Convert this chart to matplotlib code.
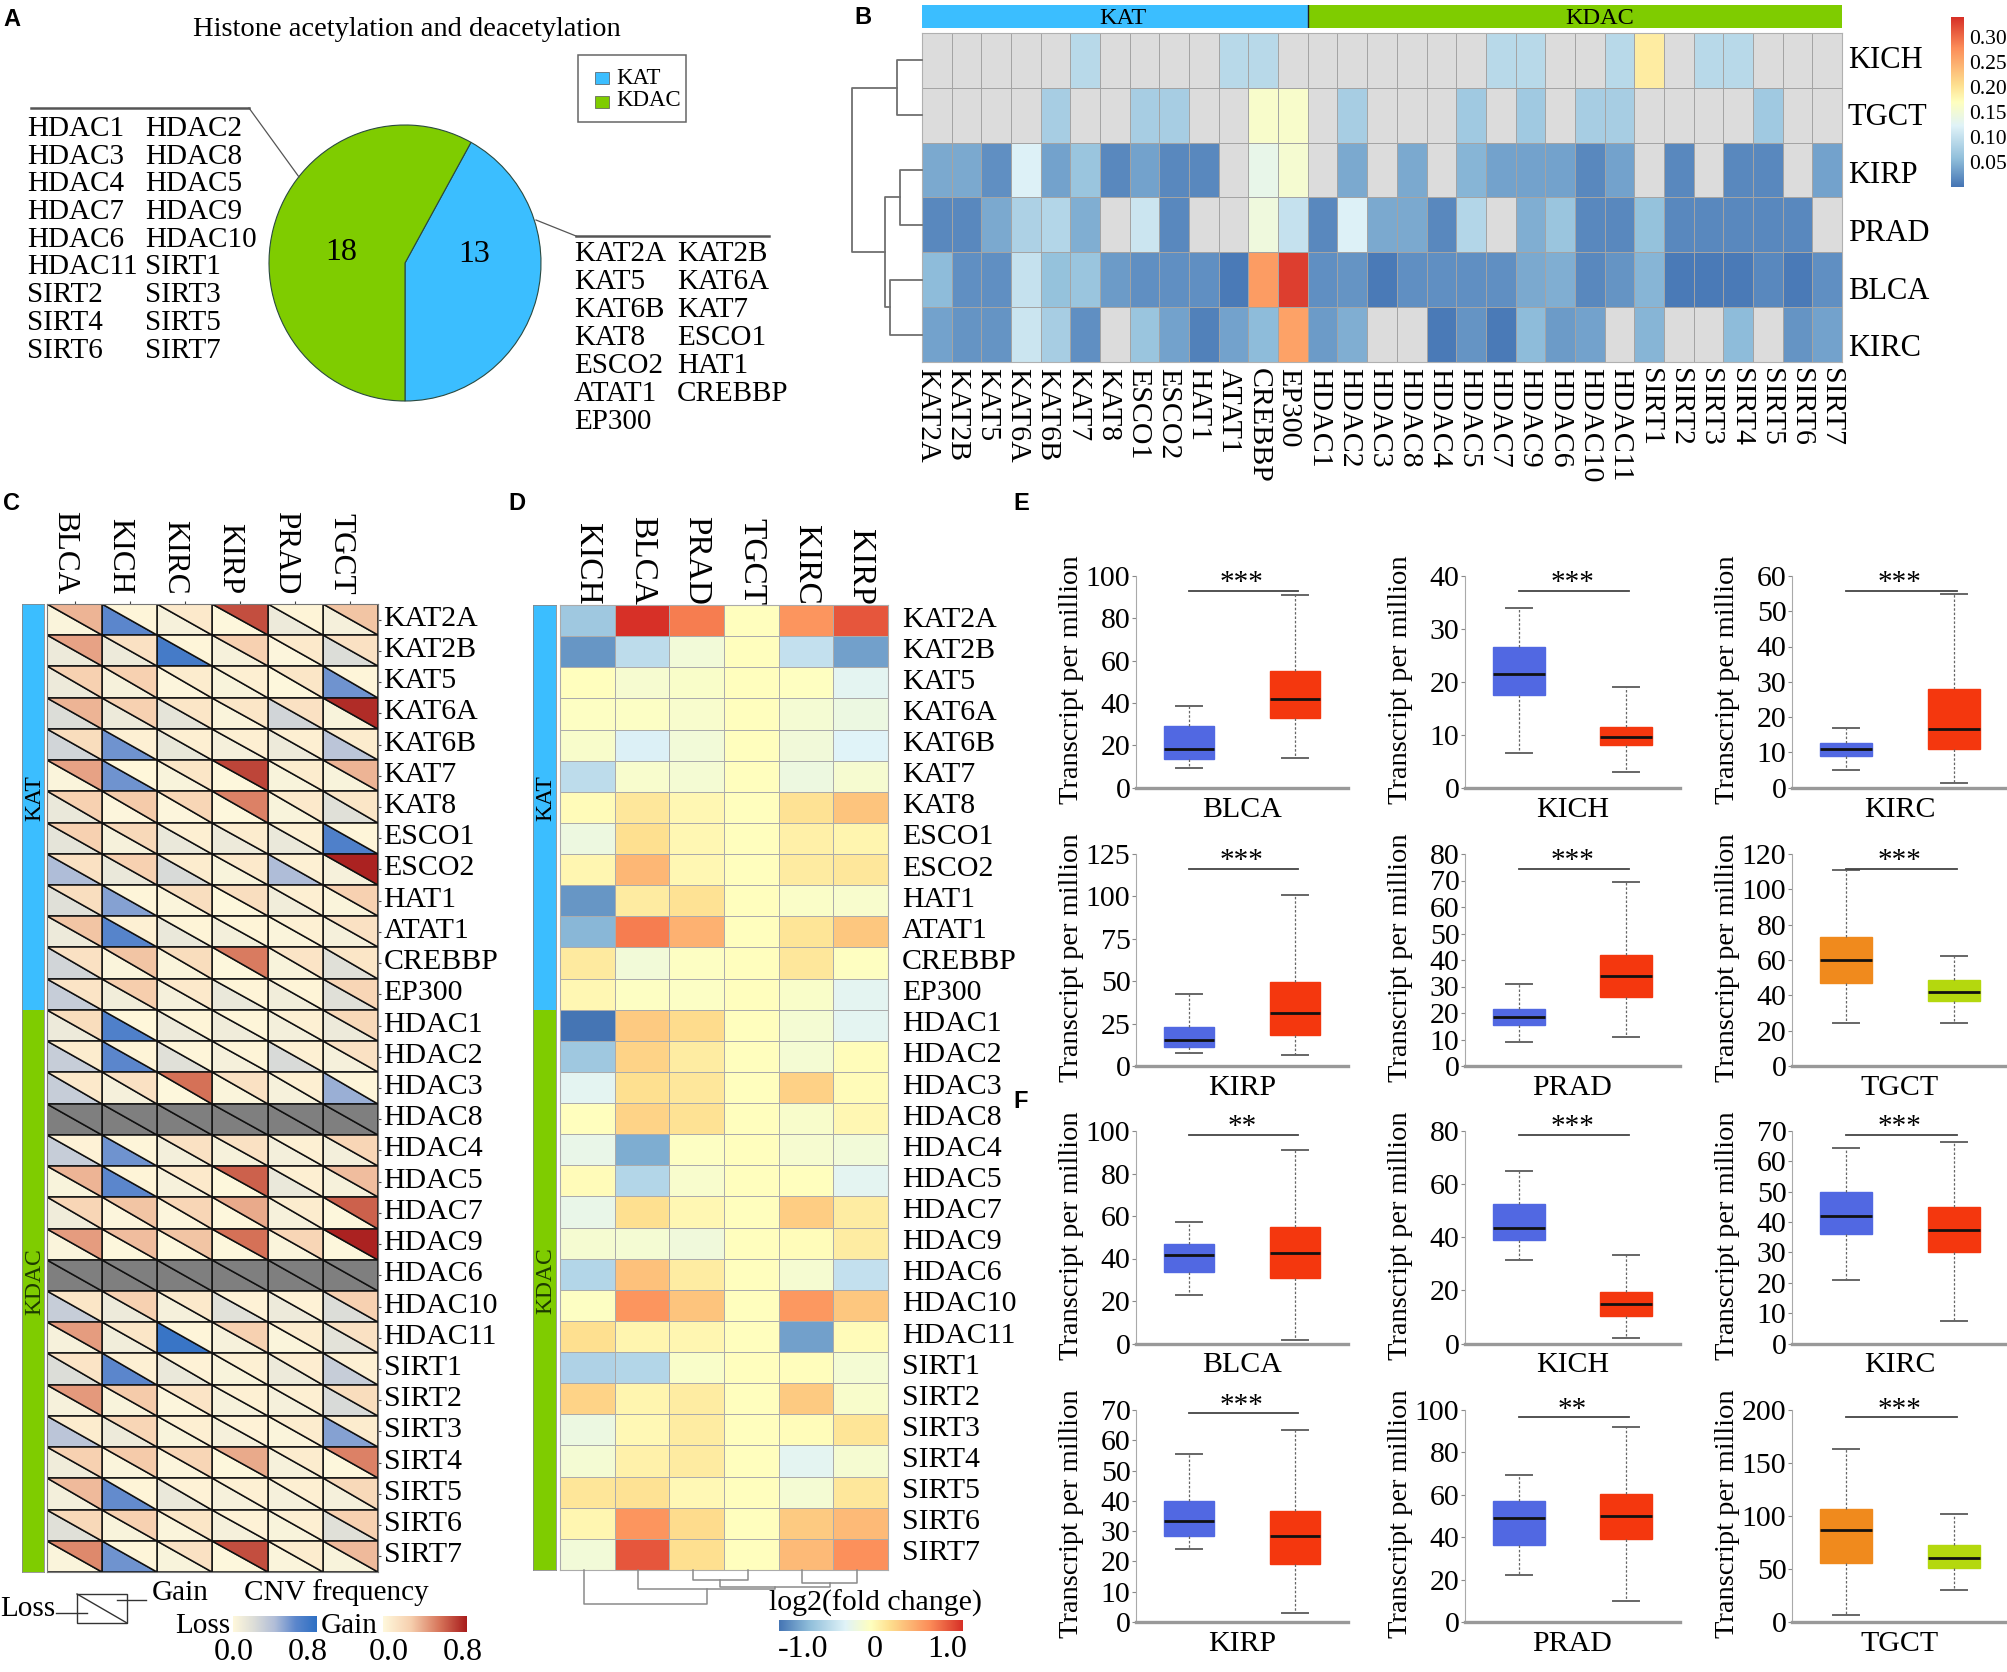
import numpy as np
import matplotlib
matplotlib.use('Agg')
import matplotlib.pyplot as plt
from matplotlib.collections import PolyCollection
from matplotlib.colors import LinearSegmentedColormap, Normalize
from matplotlib.transforms import ScaledTranslation

plt.rcParams['font.family'] = ['Liberation Serif', 'DejaVu Serif']

W, H = 2008, 1672
KAT_COLOR = '#3BBEFF'
KDAC_COLOR = '#7FCC00'
nan = np.nan

kat_genes = ['KAT2A', 'KAT2B', 'KAT5', 'KAT6A', 'KAT6B', 'KAT7', 'KAT8', 'ESCO1', 'ESCO2',
             'HAT1', 'ATAT1', 'CREBBP', 'EP300']
kdac_genes = ['HDAC1', 'HDAC2', 'HDAC3', 'HDAC8', 'HDAC4', 'HDAC5', 'HDAC7', 'HDAC9', 'HDAC6',
              'HDAC10', 'HDAC11', 'SIRT1', 'SIRT2', 'SIRT3', 'SIRT4', 'SIRT5', 'SIRT6', 'SIRT7']
genes = kat_genes + kdac_genes

# panel A
pie_counts = [13, 18]
pie_colors = [KAT_COLOR, KDAC_COLOR]
kdac_list = [['HDAC1', 'HDAC2'], ['HDAC3', 'HDAC8'], ['HDAC4', 'HDAC5'], ['HDAC7', 'HDAC9'],
             ['HDAC6', 'HDAC10'], ['HDAC11', 'SIRT1'], ['SIRT2', 'SIRT3'], ['SIRT4', 'SIRT5'],
             ['SIRT6', 'SIRT7']]
kat_list = [['KAT2A', 'KAT2B'], ['KAT5', 'KAT6A'], ['KAT6B', 'KAT7'], ['KAT8', 'ESCO1'],
            ['ESCO2', 'HAT1'], ['ATAT1', 'CREBBP'], ['EP300', '']]

# panel B
b_rows = ['KICH', 'TGCT', 'KIRP', 'PRAD', 'BLCA', 'KIRC']
b_kich = [nan, nan, nan, nan, nan, .09, nan, nan, nan, nan, .09, .09, nan, nan, nan, nan, nan, nan,
          nan, .09, .09, nan, nan, .09, .19, nan, .09, .09, nan, nan, nan]
b_tgct = [nan, nan, nan, nan, .075, nan, nan, .075, .075, nan, nan, .16, .16, nan, .075, nan, nan,
          nan, .07, nan, .07, nan, .075, .075, nan, nan, nan, nan, .07, nan, nan]
b_kirp = [.04, .04, .02, .12, .035, .065, .015, .035, .015, .015, nan, .135, .155, nan, .04, nan,
          .04, nan, .05, .035, .035, .035, .015, .035, nan, .015, nan, .015, .015, nan, .035]
b_prad = [.015, .015, .04, .08, .085, .045, nan, .105, .015, nan, nan, .145, .1, .015, .12, .04,
          .04, .015, .085, nan, .045, .065, .015, .015, .06, .015, .015, .015, .015, .015, nan]
b_blca = [.055, .02, .02, .1, .06, .065, .03, .02, .02, .02, .005, .265, .33, .02, .025, .005, .02,
          .02, .02, .02, .04, .045, .015, .025, .05, .005, .005, .005, .015, .005, .02]
b_kirc = [.035, .025, .025, .105, .075, .02, nan, .065, .035, .01, .035, .055, .26, .03, .045, nan,
          nan, .005, .025, .005, .055, .03, .035, nan, .05, nan, nan, .055, nan, .025, .035]
b_ticks = [0.05, 0.10, 0.15, 0.20, 0.25, 0.30]
# (row a, row b, distance from the heatmap in px)
b_links = [(0, 1, 25), (2, 3, 22), (4, 5, 32), (2.5, 4.5, 37), (0.5, 3.5, 70)]

# panel C, columns BLCA KICH KIRC KIRP PRAD TGCT
c_cols = ['BLCA', 'KICH', 'KIRC', 'KIRP', 'PRAD', 'TGCT']
c_gain = [[.35, .02, .10, .65, .03, .30], [.40, .15, .02, .25, .10, .15], [.25, .25, .08, .06, .12, .02],
          [.35, .25, .12, .12, .15, .75], [.18, .05, .06, .06, .06, .08], [.40, .01, .12, .68, .08, .35],
          [.25, .28, .22, .50, .10, .12], [.25, .20, .06, .08, .05, .02], [.15, .25, .08, .10, .05, .78],
          [.17, .02, .17, .17, .06, .25], [.30, .05, .03, .03, .05, .15], [.15, .30, .18, .52, .13, .12],
          [.13, .27, .10, .03, .03, .22], [.18, .01, .03, .02, .05, .20], [.08, .03, .02, .03, .05, .15],
          [.10, .15, .55, .15, .06, .02], [nan] * 6, [.04, .02, .15, .15, .05, .22],
          [.35, .03, .10, .60, .06, .32], [.22, .30, .22, .38, .08, .60], [.42, .32, .30, .55, .22, .78],
          [nan] * 6, [.12, .25, .10, .04, .04, .25], [.42, .12, .02, .25, .08, .15],
          [.13, .05, .04, .05, .07, .05], [.43, .28, .13, .05, .06, .18], [.08, .22, .06, .04, .08, .08],
          [.25, .28, .22, .38, .08, .50], [.33, .03, .04, .05, .06, .20], [.20, .25, .12, .04, .06, .25],
          [.48, .02, .15, .65, .08, .33]]
c_loss = [[.03, .60, .05, .01, .10, .06], [.10, .10, .70, .05, .02, .20], [.10, .05, .02, .04, .01, .55],
          [.20, .10, .15, .03, .25, .04], [.25, .55, .13, .06, .10, .35], [.03, .55, .04, .01, .04, .04],
          [.12, .02, .02, .01, .04, .18], [.15, .05, .12, .10, .12, .65], [.40, .12, .22, .04, .40, .05],
          [.18, .50, .03, .01, .08, .03], [.10, .62, .12, .07, .03, .06], [.25, .03, .03, .01, .04, .18],
          [.30, .08, .06, .12, .08, .18], [.10, .65, .10, .09, .07, .10], [.30, .60, .18, .06, .22, .06],
          [.30, .06, .01, .03, .05, .45], [nan] * 6, [.30, .55, .07, .05, .07, .07],
          [.04, .60, .05, .01, .12, .05], [.09, .02, .02, .01, .05, .01], [.03, .01, .01, .01, .03, .01],
          [nan] * 6, [.30, .10, .06, .17, .10, .20], [.05, .08, .75, .05, .03, .16],
          [.20, .60, .12, .04, .10, .30], [.05, .04, .02, .05, .06, .22], [.35, .10, .04, .06, .03, .50],
          [.09, .03, .02, .01, .05, .01], [.07, .58, .12, .05, .06, .06], [.18, .04, .03, .06, .04, .18],
          [.03, .55, .04, .01, .03, .04]]

# panel D, read as a share of the colour range
d_cols = ['KICH', 'BLCA', 'PRAD', 'TGCT', 'KIRC', 'KIRP']
d_vals = [[-.60, 1.0, .70, 0, .60, .85], [-.85, -.45, -.12, 0, -.42, -.80], [0, -.08, -.05, 0, -.01, -.25],
          [-.02, -.03, -.07, 0, -.10, -.17], [-.06, -.30, -.12, 0, -.13, -.28], [-.45, -.07, -.10, 0, -.16, -.08],
          [.03, .15, .05, 0, .18, .35], [-.16, .20, .05, 0, .10, .07], [.06, .42, .05, 0, .13, .15],
          [-.85, .13, .18, 0, -.04, -.07], [-.70, .70, .45, 0, .17, .33], [.14, -.12, -.02, 0, .15, -.01],
          [.05, -.02, -.03, 0, -.05, -.25], [-1.0, .32, .22, 0, -.10, -.25], [-.60, .27, .12, 0, -.10, .02],
          [-.25, .20, .15, 0, .28, .03], [0, .27, .18, 0, -.06, .05], [-.20, -.75, -.02, 0, -.08, -.12],
          [.03, -.50, -.07, 0, 0, -.25], [-.20, .20, .05, 0, .30, .12], [-.09, -.10, -.14, 0, .02, .12],
          [-.50, .36, .12, 0, -.09, -.42], [-.02, .60, .35, 0, .58, .33], [.20, .07, .06, 0, -.80, .03],
          [-.52, -.50, -.05, 0, .01, -.10], [.27, .07, .12, 0, .32, -.06], [-.17, .04, .12, 0, .02, .17],
          [-.10, .09, .13, 0, -.25, -.09], [.16, .18, .04, 0, -.10, .15], [.06, .60, .22, 0, .32, .40],
          [-.12, .85, .20, 0, .40, .62]]
d_range = 1.25
d_ticks = [-1.0, 0, 1.0]
d_ticklabels = ['-1.0', '0', '1.0']
# (col a, col b, height below the heatmap in px)
d_links = [(2, 3, 10), (4, 5, 12.5), (2.5, 4.5, 17), (1, 3.5, 18.5), (0, 2.25, 34)]

# panels E and F: whislo, q1, median, q3, whishi for the two groups
box_names = ['BLCA', 'KICH', 'KIRC', 'KIRP', 'PRAD', 'TGCT']
e_normal = [[9, 13.5, 18, 29, 38.5], [6.5, 17.5, 21.5, 26.5, 34], [5, 9, 11, 12.5, 17],
            [7.5, 11, 15.5, 23, 42.5], [9, 15.5, 18.5, 21.5, 31], [24.5, 47, 60, 73, 111]]
e_tumor = [[14, 33, 42, 55, 91], [3, 8, 9.5, 11.5, 19], [1.2, 11, 16.5, 28, 55],
           [6.5, 18.5, 31, 49.5, 101], [11, 26, 34, 42, 69.5], [24.5, 37, 42, 48.5, 62.5]]
e_ticks = [range(0, 101, 20), range(0, 41, 10), range(0, 61, 10),
           range(0, 126, 25), range(0, 81, 10), range(0, 121, 20)]
e_stars = ['***'] * 6
e_bar = [.93] * 6
f_normal = [[23, 33.5, 41.5, 47, 57], [31.5, 39, 43.5, 52.5, 65], [21, 36, 42, 50, 64.5],
            [24, 28.5, 33.5, 40, 55.5], [22, 36.5, 49, 57, 69.5], [7, 56, 87, 107, 163]]
f_tumor = [[1.5, 31, 42.5, 55, 91], [2, 10.5, 15, 19.5, 33.5], [7.5, 30, 37.5, 45, 66.5],
           [3, 19, 28.5, 36.5, 63.5], [10, 39, 50, 60.5, 92], [30, 51, 60, 72.5, 102]]
f_ticks = [range(0, 101, 20), range(0, 81, 20), range(0, 71, 10),
           range(0, 71, 10), range(0, 101, 20), range(0, 201, 50)]
f_stars = ['**', '***', '***', '***', '**', '***']
f_bar = [.982, .982, .982, .984, .965, .965]

fig = plt.figure(figsize=(W / 100, H / 100), dpi=100, facecolor='white')


def box_ax(left, top, right, bottom):
    return fig.add_axes([left / W, 1 - bottom / H, (right - left) / W, (bottom - top) / H])


def nudge(labels, dx, dy):
    # dx, dy in px
    shift = ScaledTranslation(dx / 100, dy / 100, fig.dpi_scale_trans)
    for lab in labels:
        lab.set_transform(lab.get_transform() + shift)


# everything placed by pixel goes on this sheet
bg = fig.add_axes([0, 0, 1, 1], zorder=10)
bg.set_xlim(0, W)
bg.set_ylim(H, 0)
bg.axis('off')
bg.patch.set_alpha(0)

for letter, x, y in [('A', 3, 19), ('B', 854, 17), ('C', 3, 503), ('D', 508, 503), ('E', 1013, 503), ('F', 1013, 1101)]:
    bg.text(x, y, letter, family='Liberation Sans', fontweight='bold', fontsize=17, va='center')


def group_strip(left, top, right, bottom):
    ax = box_ax(left, top, right, bottom)
    ax.bar([0, 0], [len(kat_genes), len(kdac_genes)], bottom=[0, len(kat_genes)], width=1, align='edge',
           color=[KAT_COLOR, KDAC_COLOR], edgecolor='none')
    ax.set_xlim(0, 1)
    ax.set_ylim(len(genes), 0)
    ax.set_xticks([])
    ax.set_yticks([])
    for s in ax.spines.values():
        s.set_color('#888888')
        s.set_linewidth(0.6)
    ax.text(.58, len(kat_genes) / 2 - .3, 'KAT', rotation=90, ha='center', va='center', fontsize=17)
    ax.text(.58, len(kat_genes) + len(kdac_genes) / 2 - .3, 'KDAC', rotation=90, ha='center', va='center',
            fontsize=17, color='#1d3a00')


# A ------------------------------------------------------------------
bg.text(407, 29, 'Histone acetylation and deacetylation', fontsize=20.5, ha='center', va='center')
ax = box_ax(269, 125, 541, 401)
ax.pie(pie_counts, colors=pie_colors, startangle=-90, counterclock=True, radius=1,
       wedgeprops={'edgecolor': '#2a4a40', 'linewidth': 0.8})
ax.set_xlim(-1, 1)
ax.set_ylim(-1, 1)
ax.set_aspect('auto')
bg.text(474, 254, str(pie_counts[0]), fontsize=23, ha='center', va='center')
bg.text(341, 253, str(pie_counts[1]), fontsize=23, ha='center', va='center')
for i, row in enumerate(kdac_list):
    bg.text(27, 129 + 27.7 * i, row[0], fontsize=21, va='center')
    bg.text(145, 129 + 27.7 * i, row[1], fontsize=21, va='center')
for i, row in enumerate(kat_list):
    bg.text(574, 254 + 28 * i, row[0], fontsize=21, va='center')
    bg.text(677, 254 + 28 * i, row[1], fontsize=21, va='center')
bg.plot([31, 249], [108, 108], color='#555555', lw=1.8)
bg.plot([249, 299], [108, 177], color='#555555', lw=0.9)
bg.plot([576, 769], [236, 236], color='#555555', lw=1.8)
bg.plot([536, 576], [220, 236], color='#555555', lw=0.9)
bg.add_patch(plt.Rectangle((578, 55), 108, 67, fill=False, ec='#666666', lw=1.1))
bg.add_patch(plt.Rectangle((595, 72), 14, 12, fc=KAT_COLOR, ec='#555555', lw=0.5))
bg.add_patch(plt.Rectangle((595, 96), 14, 12, fc=KDAC_COLOR, ec='#555555', lw=0.5))
bg.text(616, 78, 'KAT', fontsize=16.5, va='center')
bg.text(616, 101, 'KDAC', fontsize=16.5, va='center')

# B ------------------------------------------------------------------
heat_cmap = LinearSegmentedColormap.from_list(
    'heat', [(0, '#4575B4'), (.167, '#91BFDB'), (.36, '#E0F3F8'), (.5, '#FFFFBF'),
             (.6, '#FEE090'), (.82, '#FC8D59'), (1, '#D73027')])
b_cmap = heat_cmap.copy()
b_cmap.set_bad('#DCDCDC')
b_norm = Normalize(0, 0.34)
b_vals = np.ma.masked_invalid([b_kich, b_tgct, b_kirp, b_prad, b_blca, b_kirc])
ax = box_ax(922, 33, 1842, 362)
ax.pcolormesh(b_vals, cmap=b_cmap, norm=b_norm, edgecolors='#A4A4A4', linewidth=0.7)
ax.set_ylim(len(b_rows), 0)
ax.set_xticks([])
ax.set_yticks([])
for s in ax.spines.values():
    s.set_color('#B0B0B0')
for i, gene in enumerate(genes):
    bg.text(927 + 30.13 * i, 368, gene, rotation=-90, fontsize=21.5, ha='center', va='top')
for i, name in enumerate(b_rows):
    bg.text(1848, 60 + 57.8 * i, name, fontsize=22, va='center')

bar = box_ax(922, 5, 1842, 28)
bar.barh([0, 0], [len(kat_genes), len(kdac_genes)], left=[0, len(kat_genes)], height=1, align='edge',
         color=[KAT_COLOR, KDAC_COLOR])
bar.axvline(len(kat_genes), color='#222222', lw=1)
bar.set_xlim(0, len(genes))
bar.set_ylim(0, 1)
bar.axis('off')
bg.text(1123, 18, 'KAT', ha='center', va='center', fontsize=17.5)
bg.text(1600, 18, 'KDAC', ha='center', va='center', fontsize=17.5)

den = box_ax(852, 33, 922, 362)
den.set_xlim(70, 0)
den.set_ylim(len(b_rows) - .5, -.5)
den.axis('off')
leaf_h = {}
for a, b, d in b_links:
    da = leaf_h.get(a, 0)
    db = leaf_h.get(b, 0)
    den.plot([da, d, d, db], [a, a, b, b], color='#707070', lw=1.3, clip_on=False)
    leaf_h[(a + b) / 2] = d

cax = box_ax(1951, 17, 1964, 187)
cax.imshow(np.linspace(0.34, 0, 256)[:, None], cmap=b_cmap, norm=b_norm, aspect='auto', extent=[0, 1, 0, 0.34])
cax.set_xticks([])
cax.set_yticks(b_ticks, ['%.2f' % t for t in b_ticks], fontsize=15.5)
cax.yaxis.tick_right()
cax.tick_params(length=0, pad=4)
for s in cax.spines.values():
    s.set_visible(False)

# C ------------------------------------------------------------------
loss_cmap = LinearSegmentedColormap.from_list(
    'loss', [(0, '#FFF8DC'), (.25, '#DCDDD8'), (.5, '#B0BDD8'), (.75, '#5B86CC'), (1, '#2E70C4')])
gain_cmap = LinearSegmentedColormap.from_list('gain', ['#FFF8DC', '#F6CFAE', '#D8775C', '#A81C1C'])
cnv_norm = Normalize(0, 0.8)
ax = box_ax(47, 604, 378, 1572)
loss_polys, gain_polys, loss_rgb, gain_rgb = [], [], [], []
for i in range(len(genes)):
    for j in range(len(c_cols)):
        loss_polys.append([(j, i), (j, i + 1), (j + 1, i + 1)])
        gain_polys.append([(j, i), (j + 1, i), (j + 1, i + 1)])
        if np.isnan(c_gain[i][j]):
            loss_rgb.append('#7F7F7F')
            gain_rgb.append('#7F7F7F')
        else:
            loss_rgb.append(loss_cmap(cnv_norm(c_loss[i][j])))
            gain_rgb.append(gain_cmap(cnv_norm(c_gain[i][j])))
ax.add_collection(PolyCollection(loss_polys, facecolors=loss_rgb, edgecolors='#111111', linewidths=1.1))
ax.add_collection(PolyCollection(gain_polys, facecolors=gain_rgb, edgecolors='#111111', linewidths=1.1))
ax.set_xlim(0, len(c_cols))
ax.set_ylim(len(genes), 0)
ax.set_xticks(np.arange(len(c_cols)) + .5, c_cols, rotation=-90, fontsize=22.5, ha='center', va='bottom')
ax.set_yticks(np.arange(len(genes)) + .5, genes, fontsize=21.5)
ax.xaxis.tick_top()
ax.yaxis.tick_right()
ax.tick_params(axis='x', length=2, pad=5, color='#444444')
ax.tick_params(axis='y', length=2, pad=2, color='#444444')
nudge(ax.get_xticklabels(), -10, 0)
nudge(ax.get_yticklabels(), 0, 4)
for s in ax.spines.values():
    s.set_color('#777777')
group_strip(22, 604, 44, 1572)

bg.text(0, 1609, 'Loss', fontsize=21, va='center')
bg.add_patch(plt.Rectangle((77, 1594), 50, 29, fill=False, ec='#333333', lw=1))
bg.plot([77, 127], [1594, 1623], color='#333333', lw=1)
bg.plot([56, 87], [1613, 1613], color='#333333', lw=1)
bg.plot([117, 146], [1600, 1600], color='#333333', lw=1)
bg.text(152, 1593, 'Gain', fontsize=21, va='center')
bg.text(244, 1593, 'CNV frequency', fontsize=21, va='center')
bg.text(175, 1626, 'Loss', fontsize=21, va='center')
bg.text(321, 1626, 'Gain', fontsize=21, va='center')
for left, right, lo, hi, cm in [(233, 317, -.01, .9, loss_cmap), (383, 467, -.065, .843, gain_cmap)]:
    cb = box_ax(left, 1616, right, 1632)
    cb.imshow(np.linspace(0, 0.8, 256)[None, :], cmap=cm, norm=cnv_norm, aspect='auto', extent=[lo, hi, 0, 1])
    cb.set_xticks([0.0, 0.8], ['0.0', '0.8'], fontsize=23)
    cb.set_yticks([])
    cb.tick_params(length=0, pad=4)
    for s in cb.spines.values():
        s.set_visible(False)

# D ------------------------------------------------------------------
d_norm = Normalize(-d_range, d_range)
ax = box_ax(560, 605, 888, 1570)
ax.pcolormesh(np.array(d_vals) * d_range, cmap=heat_cmap, norm=d_norm, edgecolors='#ABABAB', linewidth=0.7)
ax.set_ylim(len(genes), 0)
ax.set_xticks(np.arange(len(d_cols)) + .5, d_cols, rotation=-90, fontsize=24, ha='center', va='bottom')
ax.set_yticks(np.arange(len(genes)) + .5, genes, fontsize=21.5)
ax.xaxis.tick_top()
ax.yaxis.tick_right()
ax.tick_params(axis='x', length=0, pad=0)
ax.tick_params(axis='y', length=0, pad=10)
nudge(ax.get_yticklabels(), 0, 4)
for s in ax.spines.values():
    s.set_color('#ABABAB')
group_strip(533, 605, 556, 1570)

den = box_ax(560, 1570, 888, 1610)
den.set_xlim(0, len(d_cols))
den.set_ylim(40, 0)
den.axis('off')
leaf_h = {}
for a, b, d in d_links:
    da = leaf_h.get(a, 0)
    db = leaf_h.get(b, 0)
    den.plot(np.array([a, a, b, b]) + .43, [da, d, d, db], color='#8A8A8A', lw=1.1, clip_on=False)
    leaf_h[(a + b) / 2] = d

bg.text(876, 1603, 'log2(fold change)', fontsize=21.5, ha='center', va='center')
cb = box_ax(779, 1620, 963, 1631)
cb.imshow(np.linspace(-d_range, d_range, 256)[None, :], cmap=heat_cmap, norm=d_norm, aspect='auto',
          extent=[-1.33, 1.22, 0, 1])
cb.set_xticks(d_ticks, d_ticklabels, fontsize=23)
cb.set_yticks([])
cb.tick_params(length=0, pad=3)
for s in cb.spines.values():
    s.set_visible(False)

# E, F ---------------------------------------------------------------
col_x = [(1136, 1348), (1465, 1680), (1792, 2008)]
BLUE, RED, ORANGE, LIME = '#5168E2', '#F4370E', '#F08A1D', '#B4D80E'


def box_panel(left, right, top, bottom, name, normal, tumor, ticks, stars, bar_y):
    ax = box_ax(left, top, right, bottom)
    keys = ('whislo', 'q1', 'med', 'q3', 'whishi')
    stats = [dict(zip(keys, normal), fliers=[]), dict(zip(keys, tumor), fliers=[])]
    parts = ax.bxp(stats, positions=[.5, 1.5], widths=.48, capwidths=.24, patch_artist=True, showfliers=False,
                   manage_ticks=False,
                   whiskerprops={'color': '#666666', 'lw': 0.9, 'ls': (0, (2, 1.5))},
                   capprops={'color': '#666666', 'lw': 1.4},
                   medianprops={'color': '#111111', 'lw': 2})
    colors = [ORANGE, LIME] if name == 'TGCT' else [BLUE, RED]
    for patch, c in zip(parts['boxes'], colors):
        patch.set_facecolor(c)
        patch.set_edgecolor(c)
    ticks = list(ticks)
    ax.set_xlim(0, 2)
    ax.set_ylim(0, ticks[-1])
    ax.set_xticks([])
    ax.set_yticks(ticks, [str(t) for t in ticks], fontsize=21.5)
    ax.tick_params(axis='y', length=3, width=0.8, color='#888888', pad=1)
    ax.spines['top'].set_visible(False)
    ax.spines['right'].set_visible(False)
    ax.spines['left'].set_color('#AAAAAA')
    ax.spines['bottom'].set_color('#999999')
    ax.spines['bottom'].set_linewidth(2.4)
    ax.plot([.5, 1.53], [bar_y, bar_y], color='#444444', lw=1.3, transform=ax.get_xaxis_transform(), clip_on=False)
    ax.text(1.0, bar_y + .035, stars, transform=ax.get_xaxis_transform(), fontsize=21, ha='center', va='center',
            clip_on=False)
    ax.text(1.0, -22 / (bottom - top), name, transform=ax.get_xaxis_transform(), fontsize=21.5, ha='center', va='center',
            clip_on=False)
    bg.text(left - 64, (top + bottom) / 2 - 2, 'Transcript per million', rotation=90, fontsize=20.5, ha='center', va='center')


rows = [(576, 787.5), (854, 1066), (1131, 1343.5), (1410, 1622)]
groups = [(e_normal, e_tumor, e_ticks, e_stars, e_bar), (f_normal, f_tumor, f_ticks, f_stars, f_bar)]
for g, (normal, tumor, ticks, stars, bars) in enumerate(groups):
    for i, name in enumerate(box_names):
        top, bottom = rows[2 * g + i // 3]
        left, right = col_x[i % 3]
        box_panel(left, right, top, bottom, name, normal[i], tumor[i], ticks[i], stars[i], bars[i])

fig.savefig('out.png', dpi=100)
